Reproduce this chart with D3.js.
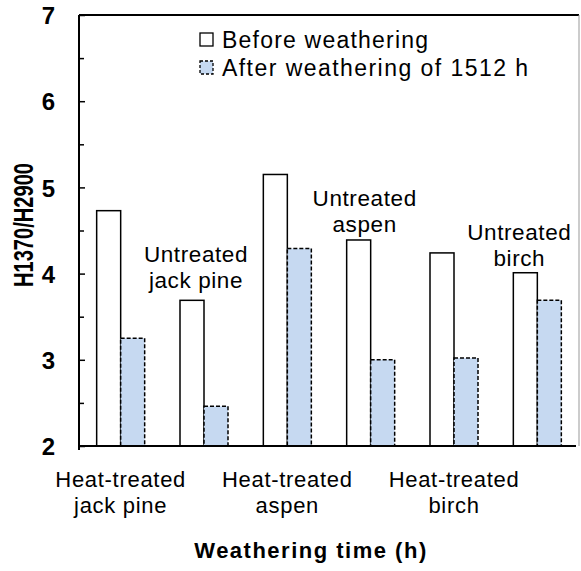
<!DOCTYPE html>
<html>
<head>
<meta charset="utf-8">
<script src="https://cdn.jsdelivr.net/npm/d3@7"></script>
<style>
  html, body { margin: 0; padding: 0; background: #fff; }
  svg { display: block; }
  text { font-family: "Liberation Sans", Arial, sans-serif; fill: #000; }
</style>
</head>
<body>
<svg id="chart" width="581" height="571"></svg>
<script>
const categories = ["Heat-treated jack pine", "Untreated jack pine", "Heat-treated aspen", "Untreated aspen", "Heat-treated birch", "Untreated birch"];
const beforeValues = [4.73, 3.69, 5.15, 4.39, 4.24, 4.01];
const afterValues = [3.25, 2.46, 4.29, 3.00, 3.02, 3.69];
const seriesNames = ["Before weathering", "After weathering of 1512 h"];
const yTicks = [2, 3, 4, 5, 6, 7];
const yMinorTicks = [2.5, 3.5, 4.5, 5.5, 6.5];
const axisLabels = [["Heat-treated", "jack pine"], ["Heat-treated", "aspen"], ["Heat-treated", "birch"]];
const axisLabelCats = [0, 2, 4];
const insideLabels = [["Untreated", "jack pine"], ["Untreated", "aspen"], ["Untreated", "birch"]];
const insideLabelCats = [1, 3, 5];
const yTitle = "H1370/H2900";
const xTitle = "Weathering time (h)";

const svg = d3.select("#chart");
const L = 79, R = 579, T = 15, B = 446;

const x = d3.scaleBand().domain(categories).range([L, R]).paddingInner(0.424).paddingOuter(0.212);
const sub = d3.scaleBand().domain([0, 1]).range([0, x.bandwidth()]);
const y = d3.scaleLinear().domain([2, 7]).range([B, T]);

// plot frame: top black, right gray
svg.append("line").attr("x1", L).attr("x2", R).attr("y1", T).attr("y2", T).attr("stroke", "#000").attr("stroke-width", 2);
svg.append("line").attr("x1", R).attr("x2", R).attr("y1", T).attr("y2", B).attr("stroke", "#999").attr("stroke-width", 1);

// bars
const groups = svg.append("g").selectAll("g").data(categories).join("g")
  .attr("transform", d => `translate(${x(d)},0)`);
groups.append("rect")
  .attr("x", sub(0)).attr("width", sub.bandwidth())
  .attr("y", (d, i) => y(beforeValues[i])).attr("height", (d, i) => B - y(beforeValues[i]))
  .attr("fill", "#fff").attr("stroke", "#000").attr("stroke-width", 1.5);
groups.append("rect")
  .attr("x", sub(1)).attr("width", sub.bandwidth())
  .attr("y", (d, i) => y(afterValues[i])).attr("height", (d, i) => B - y(afterValues[i]))
  .attr("fill", "#c6d9f1").attr("stroke", "#000").attr("stroke-width", 1.5).attr("stroke-dasharray", "4,2");

// y axis
const yAxis = d3.axisLeft(y).tickValues(yTicks).tickFormat(d3.format("d")).tickSizeInner(-6).tickSizeOuter(0).tickPadding(24);
const gy = svg.append("g").attr("transform", `translate(${L},0)`).call(yAxis);
gy.select(".domain").attr("stroke", "#000").attr("stroke-width", 2).attr("d", `M0,${T}V${B + 4}`);
gy.selectAll(".tick line").attr("stroke", "#000").attr("stroke-width", 1.5);
gy.selectAll(".tick text").attr("font-family", "Liberation Sans, Arial, sans-serif").attr("font-size", 24).attr("font-weight", "bold").attr("fill", "#000").attr("dy", "0.36em");
const gym = svg.append("g").attr("transform", `translate(${L},0)`)
  .call(d3.axisLeft(y).tickValues(yMinorTicks).tickFormat("").tickSizeInner(-5).tickSizeOuter(0));
gym.select(".domain").remove();
gym.selectAll(".tick line").attr("stroke", "#000").attr("stroke-width", 1.5);

// x axis line
svg.append("line").attr("x1", L).attr("x2", R - 3).attr("y1", B).attr("y2", B).attr("stroke", "#000").attr("stroke-width", 2);

// x category labels
axisLabels.forEach((lines, k) => {
  const cx = x(categories[axisLabelCats[k]]) + x.bandwidth() / 2;
  const t = svg.append("text").attr("text-anchor", "middle").attr("font-size", 22).attr("letter-spacing", 0.7);
  lines.forEach((ln, j) => t.append("tspan").attr("x", cx).attr("y", 487 + j * 26).text(ln));
});

// inside labels
const insideDx = [-8, -6, -18];
const insideY = [262, 206, 240];
insideLabels.forEach((lines, k) => {
  const cx = x(categories[insideLabelCats[k]]) + x.bandwidth() / 2 + insideDx[k];
  const t = svg.append("text").attr("text-anchor", "middle").attr("font-size", 22.5).attr("letter-spacing", 0.6);
  lines.forEach((ln, j) => t.append("tspan").attr("x", cx).attr("y", insideY[k] + j * 26).text(ln));
});

// legend
const legend = svg.append("g");
seriesNames.forEach((name, i) => {
  const yy = 33 + i * 28;
  legend.append("rect").attr("x", 200).attr("y", yy).attr("width", 13).attr("height", 13)
    .attr("fill", i === 0 ? "#fff" : "#c6d9f1").attr("stroke", "#000").attr("stroke-width", 1.3)
    .attr("stroke-dasharray", i === 0 ? null : "3,2");
  legend.append("text").attr("x", 222).attr("y", yy + 15).attr("font-size", 23)
    .attr("textLength", i === 0 ? 206 : 306).attr("lengthAdjust", "spacing").text(name);
});

// axis titles
svg.append("text").attr("transform", `translate(33,225) rotate(-90)`).attr("text-anchor", "middle")
  .attr("font-size", 27).attr("font-weight", "bold").attr("textLength", 124).attr("lengthAdjust", "spacingAndGlyphs").text(yTitle);
svg.append("text").attr("x", 311).attr("y", 558).attr("text-anchor", "middle")
  .attr("font-size", 22).attr("font-weight", "bold").attr("letter-spacing", 1.5).text(xTitle);
</script>
</body>
</html>
